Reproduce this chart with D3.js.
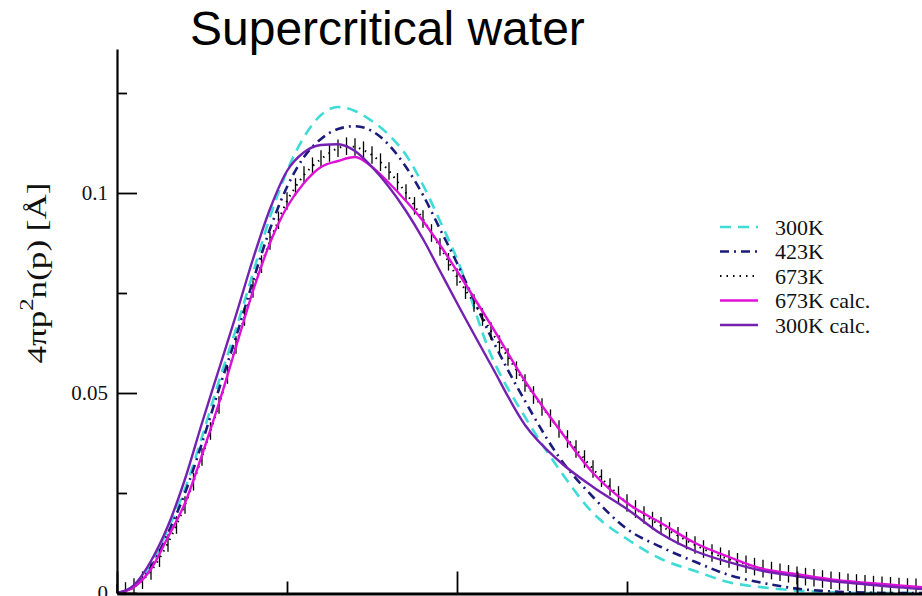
<!DOCTYPE html>
<html>
<head>
<meta charset="utf-8">
<script src="https://cdn.jsdelivr.net/npm/d3@7"></script>
<style>
  html, body { margin: 0; padding: 0; background: #fff; }
  svg { display: block; }
</style>
</head>
<body>
<svg id="chart" width="922" height="596"></svg>
<script>
// ---------- data ----------
const title = "Supercritical water";
const pGrid = [0,0.1,0.2,0.3,0.4,0.5,0.6,0.7,0.8,0.9,1.0,1.1,1.2,1.3,1.4,1.5,1.6,1.7,1.8,1.9,2.0,
               2.2,2.4,2.6,2.8,3.0,3.2,3.4,3.6,3.8,4.0,4.2,4.4,4.6,4.8];
const exp300K = [0,0.0015,0.007,0.016,0.026,0.039,0.053,0.066,0.080,0.094,0.1055,0.114,0.1195,0.1215,0.1205,0.118,0.1145,0.1095,0.102,0.093,0.0835,
                 0.0595,0.044,0.031,0.020,0.0135,0.0085,0.0055,0.0027,0.0014,0.0006,0.0002,0,0,0];
const exp423K = [0,0.0015,0.0065,0.015,0.025,0.0375,0.051,0.064,0.078,0.091,0.1015,0.109,0.1135,0.116,0.1167,0.1155,0.112,0.1065,0.0995,0.091,0.0825,
                 0.064,0.048,0.034,0.024,0.016,0.0115,0.0078,0.0045,0.0025,0.0011,0.0004,0.0001,0,0];
const calc673K = [0,0.0015,0.006,0.014,0.0225,0.0345,0.0475,0.0615,0.0755,0.0875,0.0965,0.1025,0.1065,0.108,0.109,0.1065,0.1025,0.098,0.093,0.087,0.0805,
                  0.067,0.053,0.041,0.030,0.0225,0.0175,0.0125,0.009,0.006,0.0047,0.0034,0.0026,0.0019,0.0012];
const calc300K = [0,0.002,0.008,0.0168,0.0285,0.0425,0.056,0.0695,0.0835,0.096,0.1055,0.1102,0.112,0.1122,0.1105,0.1065,0.1015,0.0955,0.0885,0.0805,0.0725,
                  0.057,0.042,0.033,0.0265,0.021,0.0148,0.0105,0.0077,0.0055,0.0042,0.003,0.0022,0.0014,0.0008];

// 673K measured points (step 0.05) with error bars
const p673 = d3.range(96).map(i => +(i * 0.05).toFixed(2));
const exp673K = [0,0.0005,0.0015,0.0032,0.0055,0.0087,0.0125,0.017,0.022,0.0278,
                 0.034,0.0405,0.047,0.0545,0.062,0.069,0.076,0.0822,0.088,0.0932,
                 0.098,0.1015,0.1045,0.1067,0.1085,0.110,0.1112,0.1117,0.1115,0.1107,
                 0.1095,0.1077,0.1055,0.1028,0.100,0.0968,0.0935,0.090,0.0865,0.0828,
                 0.079,0.0757,0.0725,0.069,0.0655,0.0622,0.059,0.0557,0.0525,0.0495,
                 0.0465,0.0437,0.041,0.0385,0.036,0.0335,0.031,0.0287,0.0265,0.0245,
                 0.0225,0.021,0.0195,0.0181,0.0168,0.0155,0.0143,0.0131,0.012,0.011,
                 0.010,0.0092,0.0085,0.0078,0.0072,0.0066,0.0061,0.0056,0.0052,0.0048,
                 0.0044,0.0041,0.0038,0.0035,0.0032,0.003,0.0027,0.0025,0.0023,0.0021,
                 0.0019,0.0018,0.0016,0.0015,0.0014,0.0012];
const err673K = 0.0022;

const yMajorTicks = [0, 0.05, 0.1];
const yMajorLabels = ["0", "0.05", "0.1"];
const yMinorTicks = [0.025, 0.075, 0.125];
const xMajorTicks = [0, 2, 4];
const xMinorTicks = [1, 3];

const legendLabels = ["300K", "423K", "673K", "673K calc.", "300K calc."];

// ---------- drawing ----------
const svg = d3.select("#chart");
const x = d3.scaleLinear().domain([0, 5]).range([117, 967]);
const y = d3.scaleLinear().domain([0, 0.136]).range([593, 49]);

const serif = "'Liberation Serif', 'Times New Roman', serif";

const styles = [
  {name: legendLabels[0], color: "#3fdcd6", width: 2.6, dash: "11,7"},
  {name: legendLabels[1], color: "#1b1b7c", width: 2.6, dash: "9,5,2,5"},
  {name: legendLabels[2], color: "#000000", width: 2, dash: "1.5,5"},
  {name: legendLabels[3], color: "#e010d8", width: 2.4, dash: null},
  {name: legendLabels[4], color: "#7420b0", width: 2.4, dash: null}
];

const line = d3.line().x(d => x(d[0])).y(d => y(d[1])).curve(d3.curveMonotoneX);
const zip = (ps, vs) => ps.map((p, i) => [p, vs[i]]);

const plot = svg.append("g");

function drawLine(data, st) {
  plot.append("path")
    .datum(data)
    .attr("fill", "none")
    .attr("stroke", st.color)
    .attr("stroke-width", st.width)
    .attr("stroke-dasharray", st.dash)
    .attr("stroke-linejoin", "round")
    .attr("d", line);
}

drawLine(zip(pGrid, exp300K), styles[0]);
drawLine(zip(pGrid, exp423K), styles[1]);

// error bars of 673K
plot.append("g").selectAll("line")
  .data(zip(p673, exp673K))
  .join("line")
  .attr("x1", d => x(d[0])).attr("x2", d => x(d[0]))
  .attr("y1", d => y(Math.max(0, d[1] - err673K)))
  .attr("y2", d => y(d[1] + err673K))
  .attr("stroke", "#000")
  .attr("stroke-width", 1.3);
drawLine(zip(p673, exp673K), styles[2]);

drawLine(zip(pGrid, calc673K), styles[3]);
drawLine(zip(pGrid, calc300K), styles[4]);

// ---------- axes ----------
const yAxis = svg.append("g").attr("transform", "translate(117,0)")
  .call(d3.axisLeft(y).tickValues(yMajorTicks).tickSizeInner(-20).tickSizeOuter(0)
        .tickPadding(9).tickFormat((d, i) => yMajorLabels[i]));
yAxis.select(".domain").attr("stroke-width", 2.2);
yAxis.selectAll(".tick line").attr("stroke-width", 1.8);
yAxis.selectAll("text").attr("font-family", serif).attr("font-size", 21).attr("fill", "#111");

const yMinor = svg.append("g").attr("transform", "translate(117,0)")
  .call(d3.axisLeft(y).tickValues(yMinorTicks).tickSizeInner(-10).tickSizeOuter(0).tickFormat(""));
yMinor.select(".domain").remove();
yMinor.selectAll(".tick line").attr("stroke-width", 1.8);

const xAxis = svg.append("g").attr("transform", "translate(0,593.5)")
  .call(d3.axisBottom(x).tickValues(xMajorTicks).tickSizeInner(-22).tickSizeOuter(0).tickFormat(""));
xAxis.select(".domain").attr("stroke-width", 3);
xAxis.selectAll(".tick line").attr("stroke-width", 1.8);

const xMinor = svg.append("g").attr("transform", "translate(0,593.5)")
  .call(d3.axisBottom(x).tickValues(xMinorTicks).tickSizeInner(-12).tickSizeOuter(0).tickFormat(""));
xMinor.select(".domain").remove();
xMinor.selectAll(".tick line").attr("stroke-width", 1.8);

// ---------- y-axis title ----------
const yt = svg.append("text")
  .attr("transform", "translate(46,273) rotate(-90) scale(1.3,1)")
  .attr("text-anchor", "middle")
  .attr("font-family", serif)
  .attr("font-size", 27)
  .attr("fill", "#111");
yt.append("tspan").text("4πp");
yt.append("tspan").attr("dy", -13).attr("font-size", 19).text("2");
yt.append("tspan").attr("dy", 13).text("n(p) [Å]");

// ---------- title ----------
svg.append("text")
  .attr("x", 190).attr("y", 45)
  .attr("font-family", "'Liberation Sans', Arial, sans-serif")
  .attr("font-size", 48)
  .attr("fill", "#000")
  .text(title);

// ---------- legend ----------
const lg = svg.append("g");
styles.forEach((st, i) => {
  const yy = 227 + i * 24.5;
  lg.append("line")
    .attr("x1", 720).attr("x2", 758).attr("y1", yy).attr("y2", yy)
    .attr("stroke", st.color).attr("stroke-width", st.width)
    .attr("stroke-dasharray", st.dash);
  lg.append("text")
    .attr("x", 775).attr("y", yy + 7.5)
    .attr("font-family", serif).attr("font-size", 22).attr("fill", "#111")
    .text(st.name);
});
</script>
</body>
</html>
